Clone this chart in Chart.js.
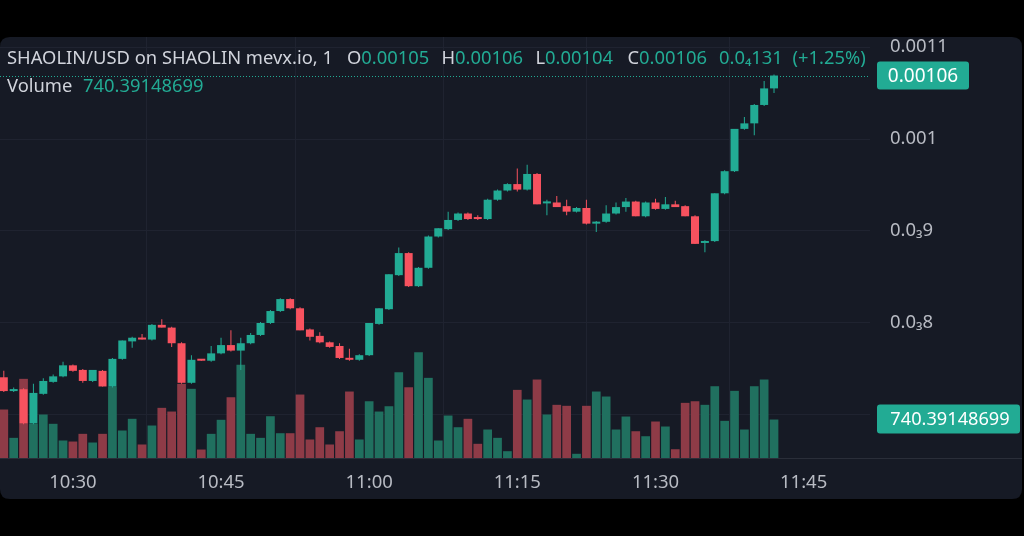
<!DOCTYPE html>
<html>
<head>
<meta charset="utf-8">
<script src="https://cdn.jsdelivr.net/npm/chart.js@4/dist/chart.umd.min.js"></script>
<style>
html,body{margin:0;padding:0;background:#000;width:1024px;height:536px;overflow:hidden}
canvas{display:block}
</style>
</head>
<body>
<canvas id="c" width="1024" height="536"></canvas>
<script>
// ---------- DATA ----------
const openPrices = [0.000741,0.000726,0.000728,0.000691,0.000723,0.000736,0.000742,0.000754,0.000749,0.000737,
0.000748,0.000731,0.000761,0.000780,0.000784,0.000782,0.000798,0.000795,0.000778,0.000735,
0.000760,0.000759,0.000767,0.000776,0.000770,0.000778,0.000787,0.000800,0.000813,0.000826,
0.000816,0.000793,0.000786,0.000779,0.000775,0.000762,0.000760,0.000765,0.000799,0.000815,
0.000852,0.000876,0.000840,0.000860,0.000894,0.000902,0.000912,0.000919,0.000914,0.000913,
0.000934,0.000944,0.000951,0.000945,0.000962,0.000930,0.000931,0.000927,0.000921,0.000925,
0.000908,0.000910,0.000919,0.000926,0.000932,0.000916,0.000931,0.000924,0.000929,0.000927,
0.000916,0.000887,0.000889,0.000941,0.000965,0.001011,0.001017,0.001037,0.001055];
const highPrices = [0.000748,0.000730,0.000729,0.000734,0.000740,0.000744,0.000758,0.000755,0.000750,0.000749,
0.000749,0.000762,0.000781,0.000785,0.000788,0.000799,0.000804,0.000796,0.000779,0.000765,
0.000761,0.000775,0.000784,0.000792,0.000784,0.000789,0.000801,0.000814,0.000827,0.000827,
0.000817,0.000794,0.000790,0.000780,0.000778,0.000772,0.000766,0.000800,0.000816,0.000853,
0.000882,0.000877,0.000861,0.000895,0.000903,0.000921,0.000920,0.000920,0.000917,0.000935,
0.000945,0.000952,0.000968,0.000972,0.000963,0.000934,0.000938,0.000934,0.000926,0.000934,
0.000911,0.000928,0.000931,0.000936,0.000933,0.000932,0.000935,0.000937,0.000933,0.000928,
0.000917,0.000890,0.000941,0.000966,0.001011,0.001024,0.001038,0.001063,0.001070];
const lowPrices = [0.000725,0.000725,0.000690,0.000690,0.000722,0.000735,0.000741,0.000747,0.000735,0.000736,
0.000731,0.000730,0.000760,0.000773,0.000782,0.000781,0.000795,0.000774,0.000734,0.000734,
0.000759,0.000758,0.000766,0.000769,0.000749,0.000777,0.000786,0.000799,0.000812,0.000815,
0.000792,0.000781,0.000778,0.000773,0.000761,0.000759,0.000759,0.000764,0.000798,0.000814,
0.000851,0.000839,0.000839,0.000859,0.000893,0.000901,0.000911,0.000912,0.000912,0.000912,
0.000933,0.000943,0.000943,0.000944,0.000929,0.000917,0.000926,0.000917,0.000920,0.000907,
0.000899,0.000909,0.000918,0.000921,0.000916,0.000915,0.000923,0.000923,0.000926,0.000916,
0.000886,0.000877,0.000888,0.000940,0.000964,0.001010,0.001004,0.001036,0.001050];
const closePrices = [0.000726,0.000728,0.000691,0.000724,0.000737,0.000742,0.000754,0.000748,0.000737,0.000749,
0.000731,0.000761,0.000781,0.000784,0.000782,0.000798,0.000795,0.000778,0.000735,0.000760,
0.000759,0.000767,0.000776,0.000770,0.000778,0.000787,0.000800,0.000813,0.000826,0.000816,
0.000792,0.000785,0.000779,0.000774,0.000762,0.000760,0.000765,0.000800,0.000816,0.000853,
0.000876,0.000840,0.000860,0.000894,0.000903,0.000912,0.000919,0.000913,0.000913,0.000934,
0.000944,0.000951,0.000945,0.000962,0.000929,0.000932,0.000926,0.000921,0.000925,0.000908,
0.000910,0.000919,0.000926,0.000932,0.000916,0.000931,0.000924,0.000929,0.000926,0.000916,
0.000886,0.000889,0.000941,0.000965,0.001011,0.001017,0.001037,0.001055,0.001069];
const volumes = [933,388,1523,663,837,658,337,317,465,298,
465,1375,529,754,260,625,965,894,1427,1331,
163,465,735,1169,1792,465,388,804,477,477,
1221,356,592,260,515,1279,356,1092,894,996,
1650,1361,2035,1542,337,817,592,754,273,548,
388,131,1311,1125,1510,837,1023,1004,81,1004,
1279,1183,548,798,515,419,702,606,169,1061,
1092,1023,1381,715,1292,548,1381,1510,740.39148699];

const timeTickIndex = [7, 22, 37, 52, 66, 81];
const timeTickLabels = ['10:30', '10:45', '11:00', '11:15', '11:30', '11:45'];
const priceTickValues = [0.0007, 0.0008, 0.0009, 0.001, 0.0011];
const priceTickLabels = ['0.0\u20837', '0.0\u20838', '0.0\u20839', '0.001', '0.0011'];

const legendTitle = 'SHAOLIN/USD on SHAOLIN mevx.io, 1';
const legendOHLC = [['O','0.00105'],['H','0.00106'],['L','0.00104'],['C','0.00106']];
const legendChange = '0.0\u2084131';
const legendChangePct = '(+1.25%)';
const legendVolumeLabel = 'Volume';
const legendVolumeValue = '740.39148699';
const lastPriceText = '0.00106';

// ---------- STYLE ----------
const FONT = '"Noto Sans", "Open Sans", sans-serif';
const UP = '#22ab94', DOWN = '#f7525f';
const UPV = '#20705f', DOWNV = '#8e3b47';
const BG = '#161a25';
const GRID = '#1f2330';
const TEXT = '#d1d4dc';
const AXIS_TEXT = '#b8bbc3';

const isUp = i => closePrices[i] >= openPrices[i];
const bodies = openPrices.map((o, i) => ({ x: i, y: [o, closePrices[i]] }));
const wicks = openPrices.map((o, i) => ({ x: i, y: [lowPrices[i], highPrices[i]] }));
const vols = volumes.map((v, i) => ({ x: i, y: v }));
const candleColors = openPrices.map((o, i) => isUp(i) ? UP : DOWN);
const volColors = openPrices.map((o, i) => isUp(i) ? UPV : DOWNV);

function roundRect(ctx, x, y, w, h, r) {
  ctx.beginPath();
  ctx.moveTo(x + r, y);
  ctx.lineTo(x + w - r, y);
  ctx.quadraticCurveTo(x + w, y, x + w, y + r);
  ctx.lineTo(x + w, y + h - r);
  ctx.quadraticCurveTo(x + w, y + h, x + w - r, y + h);
  ctx.lineTo(x + r, y + h);
  ctx.quadraticCurveTo(x, y + h, x, y + h - r);
  ctx.lineTo(x, y + r);
  ctx.quadraticCurveTo(x, y, x + r, y);
  ctx.closePath();
}

const bgPlugin = {
  id: 'bg',
  beforeDraw(chart) {
    const ctx = chart.ctx;
    ctx.save();
    ctx.fillStyle = '#000';
    ctx.fillRect(0, 0, chart.width, chart.height);
    ctx.fillStyle = BG;
    roundRect(ctx, 0, 37, 1022, 462, 10);
    ctx.fill();
    ctx.restore();
  },
  beforeDatasetsDraw(chart) {
    const ctx = chart.ctx, a = chart.chartArea;
    const y = Math.round(chart.scales.y.getPixelForValue(closePrices[closePrices.length - 1])) + 0.5;
    ctx.save();
    ctx.strokeStyle = UP;
    ctx.lineWidth = 1;
    ctx.setLineDash([1, 2]);
    ctx.beginPath();
    ctx.moveTo(a.left, y);
    ctx.lineTo(a.right, y);
    ctx.stroke();
    ctx.restore();
  },
  afterDraw(chart) {
    const ctx = chart.ctx, a = chart.chartArea;
    ctx.save();
    ctx.strokeStyle = '#2a2e39';
    ctx.lineWidth = 1;
    ctx.beginPath();
    ctx.moveTo(0, a.bottom + 0.5);
    ctx.lineTo(1022, a.bottom + 0.5);
    ctx.stroke();

    // legend
    ctx.font = '100px ' + FONT;
    const w100 = ctx.measureText(legendTitle).width;
    const fs = 100 * 326 / w100;
    ctx.font = fs.toFixed(2) + 'px ' + FONT;
    ctx.textBaseline = 'middle';
    ctx.textAlign = 'left';
    const y1 = 59, y2 = 87;
    ctx.fillStyle = TEXT;
    ctx.fillText(legendTitle, 7, y1);
    const ohlcX = [347, 441.5, 535.5, 627.5];
    legendOHLC.forEach((p, k) => {
      ctx.fillStyle = TEXT;
      ctx.fillText(p[0], ohlcX[k], y1);
      const lw = ctx.measureText(p[0]).width;
      ctx.fillStyle = UP;
      ctx.fillText(p[1], ohlcX[k] + lw, y1);
    });
    ctx.fillStyle = UP;
    ctx.fillText(legendChange, 719, y1);
    ctx.fillText(legendChangePct, 792.5, y1);
    ctx.fillStyle = TEXT;
    ctx.fillText(legendVolumeLabel, 7, y2);
    ctx.fillStyle = UP;
    ctx.fillText(legendVolumeValue, 83, y2);

    // last price badge
    const py = chart.scales.y.getPixelForValue(closePrices[closePrices.length - 1]);
    ctx.fillStyle = UP;
    roundRect(ctx, 877, py - 14, 92, 28, 3);
    ctx.fill();
    ctx.fillStyle = '#ffffff';
    ctx.font = '19px ' + FONT;
    ctx.textAlign = 'center';
    ctx.fillText(lastPriceText, 923, py + 1);

    // volume badge
    const vy = chart.scales.yv.getPixelForValue(volumes[volumes.length - 1]);
    ctx.fillStyle = UP;
    roundRect(ctx, 877, vy - 15, 143, 29, 3);
    ctx.fill();
    ctx.fillStyle = '#ffffff';
    ctx.font = '18.2px ' + FONT;
    ctx.fillText(legendVolumeValue, 950, vy);
    ctx.restore();
  }
};

new Chart(document.getElementById('c'), {
  type: 'bar',
  data: {
    datasets: [
      { data: bodies, backgroundColor: candleColors, barThickness: 8, minBarLength: 2, grouped: false, yAxisID: 'y', borderWidth: 0, inflateAmount: 0 },
      { data: wicks, backgroundColor: candleColors, barThickness: 1, grouped: false, yAxisID: 'y', borderWidth: 0, inflateAmount: 0 },
      { data: vols, backgroundColor: volColors, barThickness: 8.7, grouped: false, yAxisID: 'yv', borderWidth: 0, inflateAmount: 0 }
    ]
  },
  options: {
    responsive: false,
    animation: false,
    devicePixelRatio: 1,
    layout: { padding: { top: 37, left: 0, right: 0, bottom: 0 } },
    plugins: { legend: { display: false }, tooltip: { enabled: false } },
    scales: {
      x: {
        type: 'linear', min: -0.385, max: 87.72, offset: false, position: 'bottom',
        afterBuildTicks: s => { s.ticks = timeTickIndex.map(v => ({ value: v })); },
        afterFit: s => { s.height = 78; },
        ticks: {
          callback: (v, i) => timeTickLabels[i],
          color: AXIS_TEXT, font: { size: 18.5, family: FONT }, padding: 14,
          maxRotation: 0, autoSkip: false
        },
        grid: { color: GRID, drawTicks: false },
        border: { display: false }
      },
      y: {
        position: 'right', min: 0.00065326, max: 0.00111087,
        afterBuildTicks: s => { s.ticks = priceTickValues.map(v => ({ value: v })); },
        afterFit: s => { s.width = 154; },
        ticks: {
          callback: (v, i) => priceTickLabels[i],
          color: AXIS_TEXT, font: { size: 18.5, family: FONT }, padding: 20, autoSkip: false
        },
        grid: { color: GRID, drawTicks: false },
        border: { display: false }
      },
      yv: { display: false, min: 0, max: 8100 }
    }
  },
  plugins: [bgPlugin]
});
</script>
</body>
</html>
